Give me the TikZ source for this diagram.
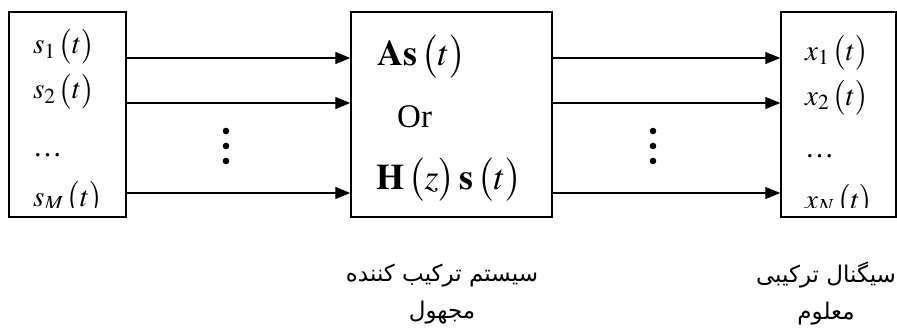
\documentclass[tikz,border=0pt]{standalone}
\usepackage{mathptmx}
\usepackage[no-math]{fontspec}
\setmainfont{Liberation Serif}
\newfontfamily\farsi[Script=Arabic]{DejaVu Sans}
\TeXXeTstate=1
\usetikzlibrary{arrows.meta}

\begin{document}
\begin{tikzpicture}[x=1pt, y=-1pt,
  blk/.style={draw, line width=1.5pt, minimum height=205pt, inner sep=0pt},
  sig/.style={anchor=base west, inner sep=0pt, font=\fontsize{29}{32}\selectfont},
  big/.style={anchor=base west, inner sep=0pt, font=\fontsize{36}{38}\selectfont},
  arr/.style={-{Triangle[length=15pt, width=12pt]}, line width=1.3pt},
  lbl/.style={font=\farsi\fontsize{23}{37}\selectfont, align=center, inner sep=0pt}
]
  \useasboundingbox (0,0) rectangle (897,329);

  \node[blk, minimum width=117pt] (src) at (67.5,114.5) {};
  \node[blk, minimum width=201pt] (mix) at (451.5,114.5) {};
  \node[blk, minimum width=115pt] (obs) at (838.5,114.5) {};

  \node[sig] (s1) at (33,54) {$s_1\,\bigl(t\bigr)$};
  \node[sig] (s2) at (33,99) {$s_2\,\bigl(t\bigr)$};
  \node[sig] (sdots) at (33,156) {\dots};
  \node[sig] (x1) at (805,60) {$x_1\,\bigl(t\bigr)$};
  \node[sig] (x2) at (805,105) {$x_2\,\bigl(t\bigr)$};
  \node[sig] (xdots) at (805,157) {\dots};
  \begin{scope}
    \clip (0,0) rectangle (897,207);
    \node[sig] (sM) at (33,206) {$s_M\,\bigl(t\bigr)$};
    \node[sig] (xN) at (805,209) {$x_N\,\bigl(t\bigr)$};
  \end{scope}

  \node[big] (as) at (377,66) {$\mathbf{As}\,\bigl(t\bigr)$};
  \node[big, font=\fontsize{33}{36}\selectfont] (or) at (397,127) {Or};
  \node[big] (hs) at (376,189) {$\mathbf{H}\,\bigl(z\bigr)\,\mathbf{s}\,\bigl(t\bigr)$};

  \coordinate (l1) at (0,58);
  \coordinate (l2) at (0,103);
  \coordinate (l3) at (0,193);

  \draw[arr] (src.east |- l1) -- (mix.west |- l1);
  \draw[arr] (src.east |- l2) -- (mix.west |- l2);
  \draw[arr] (src.east |- l3) -- (mix.west |- l3);
  \draw[arr] (mix.east |- l1) -- (obs.west |- l1);
  \draw[arr] (mix.east |- l2) -- (obs.west |- l2);
  \draw[arr] (mix.east |- l3) -- (obs.west |- l3);

  \foreach \y in {131,146,161} {
    \fill (226,\y) circle (3.3);
    \fill (653,\y) circle (3.3);
  }

  \node[lbl] (mixlbl) at (442,294) {\beginR سیستم ترکیب کننده\endR\\\beginR مجهول\endR};
  \node[lbl] (obslbl) at (826,294) {\beginR سیگنال ترکیبی\endR\\\beginR معلوم\endR};
\end{tikzpicture}
\end{document}
